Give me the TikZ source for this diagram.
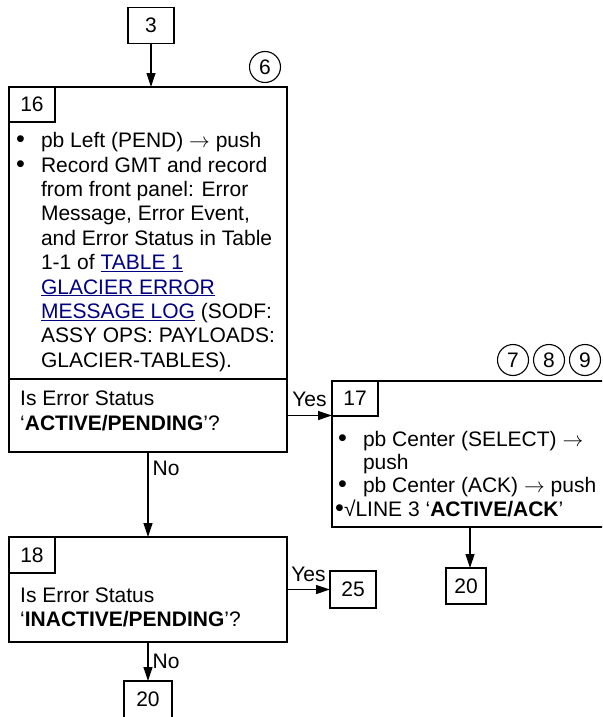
\documentclass[tikz,border=0pt]{standalone}
\usepackage{fontspec}
\setmainfont{Liberation Sans}
\usepackage{xcolor}
\usetikzlibrary{positioning,arrows.meta}

\definecolor{linkblue}{RGB}{0,0,128}
\newcommand{\lnk}[1]{\textcolor{linkblue}{\underline{#1}}}
\newcommand{\pbarrow}{$\rightarrow$}
\newcommand{\blt}{\scalebox{1.2}{\textbullet}}

\begin{document}
\begin{tikzpicture}[
    x=1pt, y=1pt,
    font=\fontsize{21}{24.4}\selectfont,
    bigbox/.style={
        rectangle,
        draw=black,
        line width=1.8pt,
        minimum width=278pt,
        inner sep=0pt,
        outer sep=0pt
    },
    numbox/.style={
        rectangle,
        draw=black,
        line width=1.1pt,
        minimum width=46pt,
        minimum height=36pt,
        inner sep=0pt,
        outer sep=0pt
    },
    tag/.style={circle, draw=black, line width=1.1pt, minimum size=31pt, inner sep=0pt, outer sep=0pt},
    txt/.style={anchor=north west, inner sep=0pt},
    arrow/.style={-{Triangle[length=14pt,width=9pt]}, line width=1.2pt},
    lbl/.style={inner sep=0pt}
]

\useasboundingbox (0,0) rectangle (602,-717);
\clip (0,0) rectangle (602,-717);

% Entry
\node[numbox] (n3) at (151,-25.5) {3};

% Step 16
\node[bigbox, minimum height=292pt] (act16) at (148,-233) {};
\node[bigbox, minimum height=73pt, below=0pt of act16] (ask16) {};
\node[numbox, minimum height=35pt, anchor=north west] (n16) at (act16.north west) {16};
\node[tag] (c6) at (265,-67) {6};

\node[txt] (t16) at ([shift={(7,-43.4)}]act16.north west) {%
\begin{tabular}{@{}l@{\hspace{16pt}}l@{}}
\blt & pb Left (PEND) \pbarrow{} push\\
\blt & Record GMT and record\\
 & from front panel: Error\\
 & Message, Error Event,\\
 & and Error Status in Table\\
 & 1-1 of \lnk{TABLE 1}\\
 & \lnk{GLACIER ERROR}\\
 & \lnk{MESSAGE LOG} (SODF:\\
 & ASSY OPS: PAYLOADS:\\
 & GLACIER-TABLES).
\end{tabular}};

\node[txt] (q16) at ([shift={(11,-9.4)}]ask16.north west) {%
\begin{tabular}{@{}l@{}}
Is Error Status\\
`\textbf{ACTIVE/PENDING}'?
\end{tabular}};

% Step 17
\node[bigbox, minimum width=276pt, minimum height=146pt] (act17) at (470,-454) {};
\node[numbox, minimum height=35pt, anchor=north west] (n17) at (act17.north west) {17};
\node[tag] (c7) at (513,-360) {7};
\node[tag, right=5pt of c7] (c8) {8};
\node[tag, right=5pt of c8] (c9) {9};

\node[txt, font=\fontsize{21}{23}\selectfont] (t17) at ([shift={(6,-49.4)}]act17.north west) {%
\begin{tabular}{@{}l@{\hspace{16pt}}l@{}}
\blt & pb Center (SELECT) \pbarrow\\
 & push\\
\blt & pb Center (ACK) \pbarrow{} push\\
\multicolumn{2}{@{}l@{}}{\hspace{-3pt}\blt√LINE 3 `\textbf{ACTIVE/ACK}'}
\end{tabular}};

\node[numbox, below=41pt of act17, xshift=-4pt, minimum width=40pt] (n20r) {20};

% Step 18
\node[bigbox, minimum height=105pt, below=85pt of ask16] (ask18) {};
\node[numbox, minimum height=36pt, anchor=north west] (n18) at (ask18.north west) {18};

\node[txt, font=\fontsize{21}{23.5}\selectfont] (q18) at ([shift={(11,-49)}]ask18.north west) {%
\begin{tabular}{@{}l@{}}
Is Error Status\\
`\textbf{INACTIVE/PENDING}'?
\end{tabular}};

\node[numbox, right=43pt of ask18, minimum height=37pt] (n25) {25};
\node[numbox, below=39pt of ask18, minimum width=48pt, minimum height=37pt] (n20b) {20};

% Connectors
\draw[arrow] (n3) -- (n3 |- act16.north);
\draw[arrow] (ask16.east) -- (ask16.east -| act17.west) node[midway, above=8pt, lbl] {Yes};
\draw[arrow] (ask16.south) -- (ask18.north) node[pos=0.19, anchor=west, inner sep=4pt] {No};
\draw[arrow] (act17.south) -- (act17.south |- n20r.north);
\draw[arrow] (ask18.east) -- (n25.west) node[midway, above=7pt, lbl] {Yes};
\draw[arrow] (ask18.south) -- (n20b.north) node[midway, anchor=west, inner sep=4pt] {No};

\end{tikzpicture}
\end{document}
